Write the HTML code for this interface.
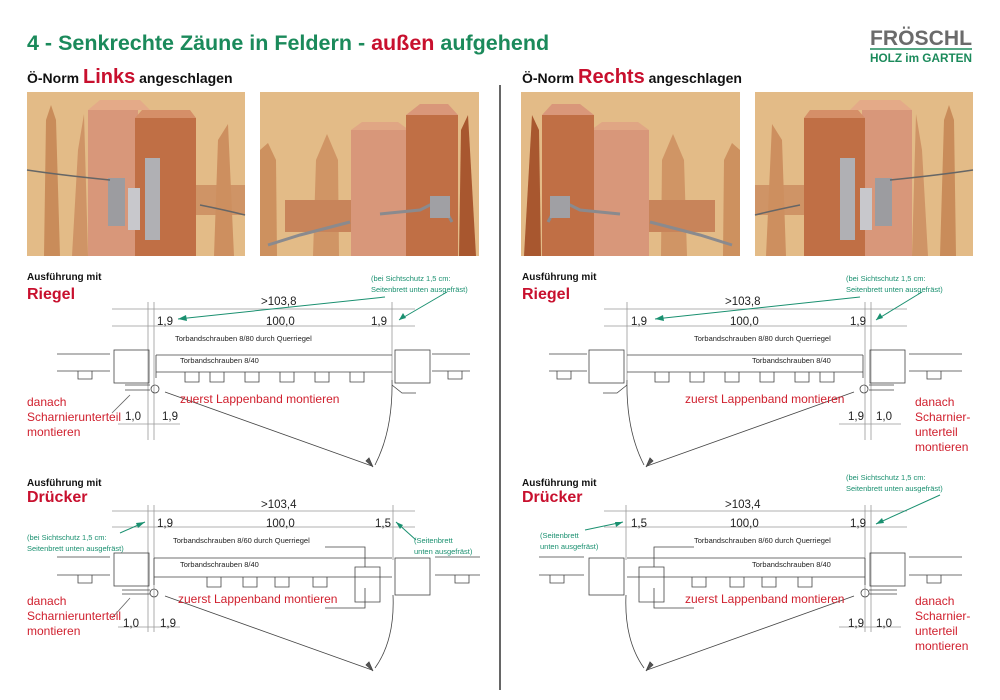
<!DOCTYPE html>
<html><head><meta charset="utf-8"><style>
html,body{margin:0;padding:0;background:#fff;width:1000px;height:700px;overflow:hidden;}
svg{display:block;font-family:"Liberation Sans",Arial,sans-serif;}
</style></head><body>
<svg width="1000" height="700" viewBox="0 0 1000 700" xmlns="http://www.w3.org/2000/svg">

<g>
<rect x="27" y="92" width="218" height="164" fill="#e3bb87"/>
<path d="M44,256 L46,120 L51,105 L56,120 L60,256z" fill="#c98c5a"/>
<path d="M72,256 L78,150 L84,114 L88,256z" fill="#cf9466"/>
<rect x="88" y="110" width="50" height="146" fill="#d8977a"/>
<path d="M88,110 L100,100 L140,100 L150,110z" fill="#e4aa88"/>
<rect x="135" y="118" width="61" height="138" fill="#c06f45"/>
<path d="M135,118 L142,110 L190,110 L196,118z" fill="#d58f68"/>
<rect x="196" y="185" width="49" height="30" fill="#cf9466"/>
<path d="M214,256 L218,140 L228,124 L234,256z" fill="#cd8f5f"/>
<rect x="145" y="158" width="15" height="82" fill="#b0b0b4"/>
<rect x="108" y="178" width="17" height="48" fill="#9c9ca0"/>
<rect x="128" y="188" width="12" height="42" fill="#c8c8cc"/>
<path d="M27,170 Q60,175 110,180 M200,205 Q225,210 245,215" stroke="#666" stroke-width="1.5" fill="none"/>
</g>
<g>
<rect x="260" y="92" width="219" height="164" fill="#e3bb87"/>
<path d="M260,256 L260,150 L268,143 L276,160 L277,256z" fill="#cd915f"/>
<path d="M313,256 L316,160 L327,134 L338,160 L339,256z" fill="#d09565"/>
<rect x="285" y="200" width="70" height="32" fill="#c8845a"/>
<rect x="351" y="130" width="58" height="126" fill="#d8977a"/>
<path d="M351,130 L362,122 L398,122 L409,130z" fill="#e0a684"/>
<rect x="406" y="115" width="52" height="141" fill="#c06f45"/>
<path d="M406,115 L420,104 L448,104 L458,115z" fill="#d9977a"/>
<path d="M459,256 L461,130 L468,115 L476,256z" fill="#a8572f"/>
<path d="M380,214 L420,210 L440,200 L452,222 M268,245 L300,235 L350,222" stroke="#8a8a8e" stroke-width="3" fill="none"/>
<rect x="430" y="196" width="20" height="22" fill="#a0a0a4"/>
</g>
<g transform="translate(1000,0) scale(-1,1)">
<rect x="27" y="92" width="218" height="164" fill="#e3bb87"/>
<path d="M44,256 L46,120 L51,105 L56,120 L60,256z" fill="#c98c5a"/>
<path d="M72,256 L78,150 L84,114 L88,256z" fill="#cf9466"/>
<rect x="88" y="110" width="50" height="146" fill="#d8977a"/>
<path d="M88,110 L100,100 L140,100 L150,110z" fill="#e4aa88"/>
<rect x="135" y="118" width="61" height="138" fill="#c06f45"/>
<path d="M135,118 L142,110 L190,110 L196,118z" fill="#d58f68"/>
<rect x="196" y="185" width="49" height="30" fill="#cf9466"/>
<path d="M214,256 L218,140 L228,124 L234,256z" fill="#cd8f5f"/>
<rect x="145" y="158" width="15" height="82" fill="#b0b0b4"/>
<rect x="108" y="178" width="17" height="48" fill="#9c9ca0"/>
<rect x="128" y="188" width="12" height="42" fill="#c8c8cc"/>
<path d="M27,170 Q60,175 110,180 M200,205 Q225,210 245,215" stroke="#666" stroke-width="1.5" fill="none"/>
<rect x="260" y="92" width="219" height="164" fill="#e3bb87"/>
<path d="M260,256 L260,150 L268,143 L276,160 L277,256z" fill="#cd915f"/>
<path d="M313,256 L316,160 L327,134 L338,160 L339,256z" fill="#d09565"/>
<rect x="285" y="200" width="70" height="32" fill="#c8845a"/>
<rect x="351" y="130" width="58" height="126" fill="#d8977a"/>
<path d="M351,130 L362,122 L398,122 L409,130z" fill="#e0a684"/>
<rect x="406" y="115" width="52" height="141" fill="#c06f45"/>
<path d="M406,115 L420,104 L448,104 L458,115z" fill="#d9977a"/>
<path d="M459,256 L461,130 L468,115 L476,256z" fill="#a8572f"/>
<path d="M380,214 L420,210 L440,200 L452,222 M268,245 L300,235 L350,222" stroke="#8a8a8e" stroke-width="3" fill="none"/>
<rect x="430" y="196" width="20" height="22" fill="#a0a0a4"/>
</g>

<g stroke="#444" stroke-width="0.8" fill="none">
<line x1="112" y1="309" x2="415" y2="309" stroke="#999"/>
<line x1="112" y1="326" x2="415" y2="326" stroke="#999"/>
<line x1="148" y1="302" x2="148" y2="440" stroke="#999"/>
<line x1="154" y1="302" x2="154" y2="440" stroke="#999"/>
<line x1="392" y1="302" x2="392" y2="380" stroke="#999"/>
<path d="M57,354 H110 M57,371 H110 M78,371 v8 h14 v-8"/>
<rect x="114" y="350" width="35" height="33"/>
<path d="M156,355 H392 M156,372 H392 M156,355 V378"/>
<path d="M185,372 v10 h14 v-10 M210,372 v10 h14 v-10 M245,372 v10 h14 v-10 M280,372 v10 h14 v-10 M315,372 v10 h14 v-10 M350,372 v10 h14 v-10"/>
<rect x="395" y="350" width="35" height="33"/>
<path d="M432,354 H470 M432,371 H470 M448,371 v8 h14 v-8"/>
<path d="M125,385 h25 M125,390 h25 M392,385 l10,8 h14"/>
<circle cx="155" cy="389" r="4"/>
<path d="M165,392 L372,466"/>
<path d="M392,380 Q393,430 375,465"/>
<line x1="118" y1="424" x2="180" y2="424" stroke="#999"/>
<line x1="112" y1="413" x2="130" y2="395" stroke="#666"/>
<line x1="112" y1="511" x2="415" y2="511" stroke="#999"/>
<line x1="112" y1="527" x2="415" y2="527" stroke="#999"/>
<line x1="148" y1="505" x2="148" y2="632" stroke="#999"/>
<line x1="154" y1="505" x2="154" y2="632" stroke="#999"/>
<line x1="393" y1="505" x2="393" y2="560" stroke="#999"/>
<path d="M57,557 H110 M57,575 H110 M78,575 v8 h14 v-8"/>
<rect x="114" y="553" width="35" height="33"/>
<path d="M154,558 H392 M154,577 H392 M154,558 V585"/>
<path d="M207,577 v10 h14 v-10 M243,577 v10 h14 v-10 M275,577 v10 h14 v-10 M313,577 v10 h14 v-10"/>
<path d="M325,547 h40 v20 M355,567 h25 v35 h-25 z M325,608 h40 v-20"/>
<rect x="395" y="558" width="35" height="37"/>
<path d="M435,557 H480 M435,575 H480 M455,575 v8 h14 v-8"/>
<path d="M122,590 h28 M122,594 h28"/>
<circle cx="154" cy="593" r="4"/>
<path d="M165,596 L372,670"/>
<path d="M393,595 Q395,640 375,668"/>
<line x1="118" y1="627" x2="180" y2="627" stroke="#999"/>
<line x1="112" y1="618" x2="130" y2="598" stroke="#666"/>
<path d="M366,461 L373,467 L369,458z M366,665 L373,671 L369,662z" fill="#555"/>
</g>
<g transform="translate(1019,0) scale(-1,1)" stroke="#444" stroke-width="0.8" fill="none">
<line x1="112" y1="309" x2="415" y2="309" stroke="#999"/>
<line x1="112" y1="326" x2="415" y2="326" stroke="#999"/>
<line x1="148" y1="302" x2="148" y2="440" stroke="#999"/>
<line x1="154" y1="302" x2="154" y2="440" stroke="#999"/>
<line x1="392" y1="302" x2="392" y2="380" stroke="#999"/>
<path d="M57,354 H110 M57,371 H110 M78,371 v8 h14 v-8"/>
<rect x="114" y="350" width="35" height="33"/>
<path d="M156,355 H392 M156,372 H392 M156,355 V378"/>
<path d="M185,372 v10 h14 v-10 M210,372 v10 h14 v-10 M245,372 v10 h14 v-10 M280,372 v10 h14 v-10 M315,372 v10 h14 v-10 M350,372 v10 h14 v-10"/>
<rect x="395" y="350" width="35" height="33"/>
<path d="M432,354 H470 M432,371 H470 M448,371 v8 h14 v-8"/>
<path d="M125,385 h25 M125,390 h25 M392,385 l10,8 h14"/>
<circle cx="155" cy="389" r="4"/>
<path d="M165,392 L372,466"/>
<path d="M392,380 Q393,430 375,465"/>
<line x1="118" y1="424" x2="180" y2="424" stroke="#999"/>
<line x1="112" y1="511" x2="415" y2="511" stroke="#999"/>
<line x1="112" y1="527" x2="415" y2="527" stroke="#999"/>
<line x1="148" y1="505" x2="148" y2="632" stroke="#999"/>
<line x1="154" y1="505" x2="154" y2="632" stroke="#999"/>
<line x1="393" y1="505" x2="393" y2="560" stroke="#999"/>
<path d="M57,557 H110 M57,575 H110 M78,575 v8 h14 v-8"/>
<rect x="114" y="553" width="35" height="33"/>
<path d="M154,558 H392 M154,577 H392 M154,558 V585"/>
<path d="M207,577 v10 h14 v-10 M243,577 v10 h14 v-10 M275,577 v10 h14 v-10 M313,577 v10 h14 v-10"/>
<path d="M325,547 h40 v20 M355,567 h25 v35 h-25 z M325,608 h40 v-20"/>
<rect x="395" y="558" width="35" height="37"/>
<path d="M435,557 H480 M435,575 H480 M455,575 v8 h14 v-8"/>
<path d="M122,590 h28 M122,594 h28"/>
<circle cx="154" cy="593" r="4"/>
<path d="M165,596 L372,670"/>
<path d="M393,595 Q395,640 375,668"/>
<line x1="118" y1="627" x2="180" y2="627" stroke="#999"/>
<path d="M366,461 L373,467 L369,458z M366,665 L373,671 L369,662z" fill="#555"/>
</g>

<line x1="500" y1="85" x2="500" y2="690" stroke="#333" stroke-width="1.5"/>

<text x="27" y="50" font-size="21.5" font-weight="bold" fill="#1b8a5b">4 - Senkrechte Zäune in Feldern - <tspan fill="#c8102e">außen</tspan> aufgehend</text>
<text x="870" y="45" font-size="21" font-weight="bold" fill="#6b6b6b" textLength="102" lengthAdjust="spacingAndGlyphs">FRÖSCHL</text>
<line x1="870" y1="49" x2="972" y2="49" stroke="#1b8a5b" stroke-width="1.5"/>
<text x="870" y="62" font-size="11.5" font-weight="bold" fill="#1b8a5b" textLength="102" lengthAdjust="spacingAndGlyphs">HOLZ im GARTEN</text>

<text x="27" y="83" font-size="14" font-weight="bold" fill="#111">Ö-Norm <tspan font-size="20" fill="#c8102e">Links</tspan> angeschlagen</text>
<text x="522" y="83" font-size="14" font-weight="bold" fill="#111">Ö-Norm <tspan font-size="20" fill="#c8102e">Rechts</tspan> angeschlagen</text>

<g font-size="10" font-weight="bold" fill="#111">
<text x="27" y="280">Ausführung mit</text>
<text x="27" y="486">Ausführung mit</text>
<text x="522" y="280">Ausführung mit</text>
<text x="522" y="486">Ausführung mit</text>
</g>
<g font-size="16" font-weight="bold" fill="#c8102e">
<text x="27" y="299">Riegel</text>
<text x="27" y="502">Drücker</text>
<text x="522" y="299">Riegel</text>
<text x="522" y="502">Drücker</text>
</g>

<g font-size="11.5" fill="#222">
<text x="261" y="305">&gt;103,8</text>
<text x="157" y="325">1,9</text><text x="266" y="325">100,0</text><text x="371" y="325">1,9</text>
<text x="261" y="508">&gt;103,4</text>
<text x="157" y="527">1,9</text><text x="266" y="527">100,0</text><text x="375" y="527">1,5</text>
<text x="125" y="420">1,0</text><text x="162" y="420">1,9</text>
<text x="123" y="627">1,0</text><text x="160" y="627">1,9</text>
<text x="725" y="305">&gt;103,8</text>
<text x="631" y="325">1,9</text><text x="730" y="325">100,0</text><text x="850" y="325">1,9</text>
<text x="725" y="508">&gt;103,4</text>
<text x="631" y="527">1,5</text><text x="730" y="527">100,0</text><text x="850" y="527">1,9</text>
<text x="848" y="420">1,9</text><text x="876" y="420">1,0</text>
<text x="848" y="627">1,9</text><text x="876" y="627">1,0</text>
</g>

<g font-size="7.5" fill="#222">
<text x="175" y="341">Torbandschrauben 8/80 durch Querriegel</text>
<text x="180" y="363">Torbandschrauben 8/40</text>
<text x="173" y="543">Torbandschrauben 8/60 durch Querriegel</text>
<text x="180" y="567">Torbandschrauben 8/40</text>
<text x="694" y="341">Torbandschrauben 8/80 durch Querriegel</text>
<text x="752" y="363">Torbandschrauben 8/40</text>
<text x="694" y="543">Torbandschrauben 8/60 durch Querriegel</text>
<text x="752" y="567">Torbandschrauben 8/40</text>
</g>

<g font-size="7.5" fill="#1a9070">
<text x="371" y="281">(bei Sichtschutz 1,5 cm:</text>
<text x="371" y="292">Seitenbrett unten ausgefräst)</text>
<text x="27" y="540">(bei Sichtschutz 1,5 cm:</text>
<text x="27" y="551">Seitenbrett unten ausgefräst)</text>
<text x="414" y="543">(Seitenbrett</text>
<text x="414" y="554">unten ausgefräst)</text>
<text x="846" y="281">(bei Sichtschutz 1,5 cm:</text>
<text x="846" y="292">Seitenbrett unten ausgefräst)</text>
<text x="846" y="480">(bei Sichtschutz 1,5 cm:</text>
<text x="846" y="491">Seitenbrett unten ausgefräst)</text>
<text x="540" y="538">(Seitenbrett</text>
<text x="540" y="549">unten ausgefräst)</text>
</g>
<g stroke="#1a9070" stroke-width="1" fill="none">
<path d="M385,297 L178,319"/>
<path d="M447,292 L399,320"/>
<path d="M120,533 L145,522"/>
<path d="M416,540 L396,522"/>
<path d="M860,297 L655,319"/>
<path d="M922,292 L876,320"/>
<path d="M940,495 L876,524"/>
<path d="M585,530 L623,522"/>
</g>
<g fill="#1a9070">
<path d="M178,319 l8,-4 l1,6z"/>
<path d="M399,320 l4,-7 l3,5z"/>
<path d="M145,522 l-7,6 l-2,-5z"/>
<path d="M396,522 l7,3 l-3,4z"/>
<path d="M655,319 l8,-4 l1,6z"/>
<path d="M876,320 l4,-7 l3,5z"/>
<path d="M876,524 l6,-6 l2,5z"/>
<path d="M623,522 l-7,5 l-1,-5z"/>
</g>

<g font-size="12" fill="#d0202e">
<text x="27" y="406">danach</text>
<text x="27" y="421">Scharnierunterteil</text>
<text x="27" y="436">montieren</text>
<text x="180" y="403">zuerst Lappenband montieren</text>
<text x="27" y="605">danach</text>
<text x="27" y="620">Scharnierunterteil</text>
<text x="27" y="635">montieren</text>
<text x="178" y="603">zuerst Lappenband montieren</text>
<text x="685" y="403">zuerst Lappenband montieren</text>
<text x="915" y="406">danach</text>
<text x="915" y="421">Scharnier-</text>
<text x="915" y="436">unterteil</text>
<text x="915" y="451">montieren</text>
<text x="685" y="603">zuerst Lappenband montieren</text>
<text x="915" y="605">danach</text>
<text x="915" y="620">Scharnier-</text>
<text x="915" y="635">unterteil</text>
<text x="915" y="650">montieren</text>
</g>
</svg>
</body></html>
